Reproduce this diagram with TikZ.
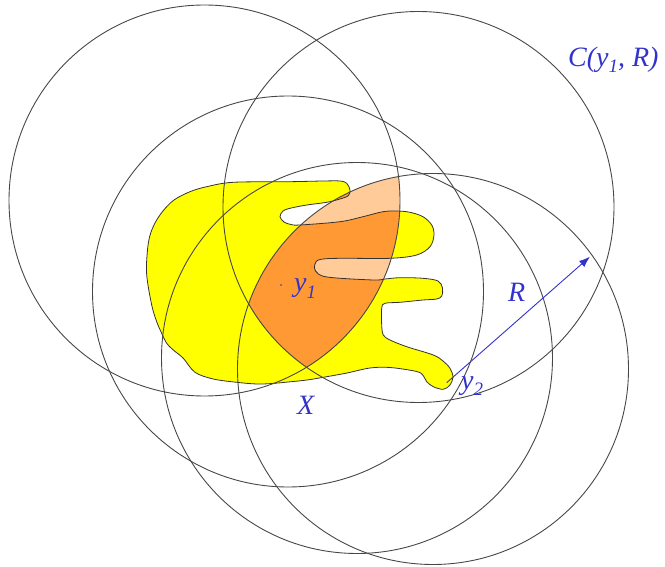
\documentclass[tikz,border=0pt]{standalone}
\usepackage{fontspec}
\setmainfont{Liberation Serif}
\usetikzlibrary{arrows.meta}
\definecolor{xyellow}{RGB}{255,255,0}
\definecolor{xorange}{RGB}{255,153,51}
\definecolor{xpeach}{RGB}{255,204,153}
\definecolor{lblue}{RGB}{51,51,204}
\newcommand{\lowsub}[1]{\raisebox{-0.22em}{\fontsize{19}{19}\selectfont #1}}
\newcommand{\Xshape}[1]{\path[#1] plot[smooth cycle, tension=0.55] coordinates {
(146.7,275) (147.3,252) (149.8,236) (155,223) (163,211) (174,200)
(190,191.7) (206.7,186.7) (233.3,182.3) (290,181.7) (323,181) (340,181) (346.7,183.3)
(350,190) (348.3,195.7) (340,199) (326.7,202.3) (306.7,205) (290,208.3) (283,211)
(280,216.7) (284,222) (291,224.5) (300,225) (340,221.7) (363,216.7) (383,211.7)
(397,211) (410,212.3) (423,216.7) (431.7,225) (434,235) (430,246.7) (416.7,255)
(390,258.3) (340,258.3) (320,259.5) (315,264) (315.5,271) (327,277) (373,280)
(385,279) (400,277.7) (423,278.3) (438,281) (442.5,288) (441.7,296) (436.7,299)
(423,300) (400,302.3) (385,303.3) (381.7,308) (381.7,325) (383.3,335) (390,340)
(406.7,346.7) (433.3,355) (443,361) (450,368.3) (453,377) (450,385) (443.3,389.3)
(433.3,386.7) (426.7,381.7) (423.3,375.7) (416.7,371.5) (390,367.5) (370,368)
(347,373) (325,377) (307,380) (288,382) (272,383.5) (256.7,384) (236.7,382.3)
(213.3,379) (195,372.3) (183.3,358.3) (173.3,350) (166.7,343.3) (161.7,333.3)
(156.7,321.7) (151.7,305)};}
\begin{document}
\begin{tikzpicture}[x=1pt,y=-1pt,
  circ/.style={draw=black!72,line width=0.9pt},
  outl/.style={draw=black!80,line width=0.8pt},
  lbl/.style={text=lblue,font=\fontsize{28}{28}\selectfont\itshape,inner sep=0pt,anchor=base west},
  arr/.style={draw=lblue,line width=0.9pt,-{Latex[length=11pt,width=8pt]}}]
\useasboundingbox (0,0) rectangle (665,567);
\coordinate (cA) at (204.5,200.5);
\coordinate (cB) at (418.5,207);
\coordinate (cC) at (288,291.5);
\coordinate (cD) at (357,358);
\coordinate (cE) at (433,369);
\coordinate (y1) at (281,285);
\coordinate (y2) at (446.7,382.7);
\coordinate (tip) at (590,256.7);
% shape X
\Xshape{fill=xyellow}
% lens A cap B cap E
\begin{scope}
  \clip (cA) circle[radius=195.5pt];
  \clip (cB) circle[radius=195.5pt];
  \clip (cE) circle[radius=195.5pt];
  \fill[xpeach] (0,0) rectangle (665,567);
  \Xshape{fill=xorange}
\end{scope}
\Xshape{outl}
% circles
\foreach \c in {cA,cB,cC,cD,cE} \draw[circ] (\c) circle[radius=195.5pt];
% point y1
\fill[lblue] (y1) circle[radius=0.9pt];
% radius arrow
\draw[arr] (y2) -- (tip);
% labels
\node[lbl] (lC) at (568,66.7) {C(y\lowsub{1}, R)};
\node[lbl] (ly1) at (294,292) {y\lowsub{1}};
\node[lbl] (lR) at (508,301.7) {R};
\node[lbl] (ly2) at (461,389) {y\lowsub{2}};
\node[lbl] (lX) at (297,414) {X};
\end{tikzpicture}
\end{document}
